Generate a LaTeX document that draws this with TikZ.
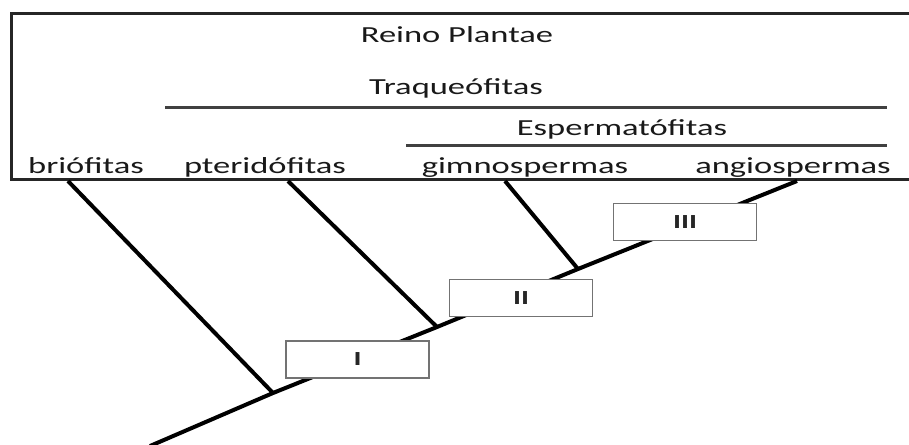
\documentclass[tikz,border=0pt]{standalone}
\usepackage{fontspec}
\setmainfont{Carlito}[FakeStretch=1.5]
\begin{document}
\begin{tikzpicture}[x=1pt,y=-1pt,
  lbl/.style={anchor=base, inner sep=0pt, font=\fontsize{23}{28}\selectfont, text=black!90},
  frameline/.style={line width=3pt, draw=black!85},
  groupline/.style={line width=3pt, draw=black!75},
  branch/.style={line width=4pt, draw=black},
  charbox/.style={draw=black!55, line width=1.6pt, fill=white, minimum width=143pt, minimum height=37pt, inner sep=0pt, font=\fontsize{20}{24}\selectfont\bfseries, text=black!85}
]
\useasboundingbox (0,0) rectangle (909,444);
% frame
\draw[frameline] (909,14) -- (11,14) -- (11,179) -- (909,179);
% titles
\node[lbl] (reino) at (457,43) {Reino Plantae};
\node[lbl] (traq) at (456,94) {Traqueófitas};
\draw[groupline] (165,107) -- (887,107);
\node[lbl] (esper) at (622,135) {Espermatófitas};
\draw[groupline] (406,145) -- (887,145);
% taxa
\node[lbl] (brio) at (86,173) {briófitas};
\node[lbl] (pter) at (265,173) {pteridófitas};
\node[lbl] (gimn) at (525,173) {gimnospermas};
\node[lbl] (angi) at (793,173) {angiospermas};
% branch tops and junctions
\coordinate (tb) at (68,181);
\coordinate (tp) at (288,181);
\coordinate (tg) at (505,181);
\coordinate (ta) at (797,181);
\coordinate (root) at (150,446);
\coordinate (j1) at (273,393);
\coordinate (j2) at (437,327);
\coordinate (j3) at (578,269);
% trunk and branches
\draw[branch] (root) -- (j1) -- (j2) -- (j3) -- (ta);
\draw[branch] (tb) -- (j1);
\draw[branch] (tp) -- (j2);
\draw[branch] (tg) -- (j3);
% character boxes
\node[charbox] (b1) at (357.5,359.5) {I};
\node[charbox] (b2) at (521,298) {II};
\node[charbox] (b3) at (685,222) {III};
\end{tikzpicture}
\end{document}
